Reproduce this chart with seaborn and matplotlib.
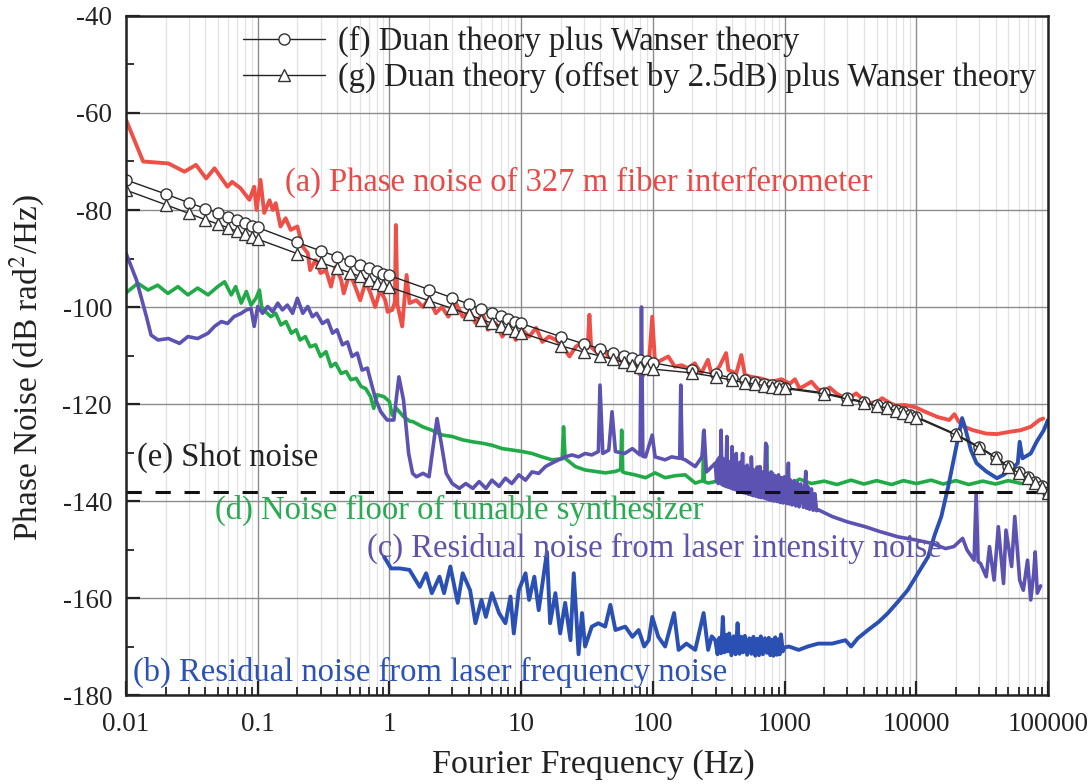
import numpy as np
import pandas as pd
import matplotlib
matplotlib.use("Agg")
import matplotlib.pyplot as plt
from matplotlib.lines import Line2D
from matplotlib.ticker import FixedLocator, FixedFormatter, NullFormatter
import seaborn as sns

# ---------------- data (frequency in Hz, phase noise in dB rad^2/Hz) ----------------
# (a) measured phase noise of the 327 m fiber interferometer
fiber_noise = [
    (0.01, -61.4), (0.0135, -70.0), (0.021, -70.4), (0.0278, -72.1), (0.034, -70.7),
    (0.0406, -73.5), (0.047, -71.4), (0.059, -75.2), (0.064, -74.2), (0.074, -75.5),
    (0.0865, -77.9), (0.094, -75.2), (0.098, -80.0), (0.105, -73.8), (0.112, -80.6),
    (0.123, -78.0), (0.13, -80.0), (0.137, -78.6), (0.149, -83.4), (0.163, -81.7),
    (0.178, -84.1), (0.2, -83.4), (0.22, -87.6), (0.24, -88.9), (0.25, -92.4),
    (0.275, -90.3), (0.3, -93.0), (0.33, -92.4), (0.36, -95.8), (0.39, -91.7),
    (0.43, -94.4), (0.45, -97.2), (0.5, -93.0), (0.55, -95.8), (0.6, -98.6),
    (0.66, -94.8), (0.72, -97.2), (0.78, -100.0), (0.85, -96.5), (0.93, -98.6),
    (0.97, -101.0), (1.05, -100.6), (1.1, -99.0), (1.12, -83.1), (1.15, -99.5),
    (1.25, -104.0), (1.35, -93.4), (1.42, -99.2), (1.6, -98.6), (1.8, -100.0),
    (2.0, -98.2), (2.25, -101.3), (2.5, -100.0), (2.8, -102.0), (3.2, -99.2),
    (3.6, -102.0), (4.1, -101.0), (4.5, -103.3), (5.1, -101.3), (5.6, -104.7),
    (6.4, -103.3), (7.2, -106.1), (8.1, -104.0), (9.1, -106.8), (10.2, -104.7),
    (11.5, -106.1), (13.0, -104.3), (14.5, -107.2), (16.3, -106.1), (18.4, -106.8),
    (20.7, -108.2), (23.3, -110.2), (26.0, -108.2), (29.3, -107.2), (32.0, -108.5),
    (33.0, -101.6), (34.0, -108.2), (37.0, -109.2), (41.0, -108.2), (46.0, -110.2),
    (52.0, -109.9), (58.0, -111.3), (66.0, -110.9), (74.0, -113.0), (83.0, -114.4),
    (93.0, -112.3), (99.0, -102.0), (104.0, -111.6), (117.0, -110.9), (131.0, -110.2),
    (147.0, -112.3), (165.0, -112.0), (185.0, -112.6), (208.0, -111.6), (233.0, -113.7),
    (262.0, -110.9), (280.0, -114.0), (320.0, -112.3), (360.0, -109.5), (375.0, -113.0),
    (430.0, -113.7), (470.0, -109.9), (500.0, -114.0), (560.0, -114.4), (650.0, -114.7),
    (800.0, -115.4), (950.0, -114.9), (1100.0, -115.8), (1200.0, -114.9), (1300.0, -116.8),
    (1450.0, -116.1), (1600.0, -115.4), (1800.0, -117.0), (2000.0, -117.3), (2200.0, -116.6),
    (2500.0, -117.9), (2800.0, -118.6), (3200.0, -118.5), (3500.0, -117.8), (4000.0, -119.2),
    (4500.0, -119.8), (5100.0, -119.5), (5500.0, -118.8), (6400.0, -119.9), (7000.0, -120.3),
    (8200.0, -120.2), (9900.0, -120.7), (11700.0, -121.6), (14600.0, -122.7), (17800.0, -123.3),
    (19500.0, -122.1), (21000.0, -123.6), (23000.0, -124.7), (27000.0, -125.4), (34000.0, -126.1),
    (41000.0, -126.2), (52000.0, -125.7), (62000.0, -125.4), (74000.0, -124.7), (86000.0, -123.3),
    (92000.0, -123.0),
]

# (b) residual noise from laser frequency noise
freq_noise = [
    (0.91, -151.5), (1.03, -153.9), (1.2, -153.9), (1.42, -154.2), (1.7, -157.7),
    (1.9, -154.9), (2.1, -159.0), (2.4, -155.6), (2.6, -159.0), (2.9, -153.5),
    (3.3, -161.0), (3.6, -154.9), (4.1, -158.4), (4.5, -165.2), (5.0, -160.4),
    (5.4, -163.9), (6.0, -159.0), (6.8, -163.1), (7.6, -165.2), (8.3, -159.7),
    (8.8, -167.3), (9.6, -158.4), (10.8, -154.9), (11.5, -160.4), (12.6, -155.6),
    (13.6, -162.5), (14.4, -157.7), (15.7, -150.5), (16.6, -165.2), (18.2, -159.0),
    (19.8, -167.3), (21.6, -161.0), (23.7, -168.7), (25.1, -154.9), (27.3, -171.6),
    (29.0, -163.1), (30.6, -170.0), (34.4, -165.9), (38.6, -165.2), (43.5, -165.9),
    (47.6, -161.4), (52.0, -166.6), (61.8, -165.9), (70.0, -168.0), (78.0, -166.6),
    (86.0, -170.0), (93.0, -168.7), (99.0, -163.9), (110.0, -168.0), (124.0, -170.0),
    (145.0, -163.1), (157.0, -170.7), (180.0, -169.4), (210.0, -170.7), (243.0, -163.1),
    (263.0, -170.7), (280.0, -167.9), (298.0, -168.7), (310.0, -171.6), (320.0, -168.2),
    (330.0, -171.4), (340.0, -163.9), (350.0, -171.2), (360.0, -167.6), (370.0, -171.0),
    (380.0, -167.3), (395.0, -171.8), (410.0, -167.9), (425.0, -171.6), (440.0, -165.2),
    (455.0, -171.5), (470.0, -168.0), (485.0, -171.2), (500.0, -167.8), (520.0, -171.7),
    (540.0, -168.3), (560.0, -171.5), (580.0, -168.0), (600.0, -171.9), (620.0, -168.4),
    (640.0, -171.8), (660.0, -167.9), (685.0, -171.6), (710.0, -168.3), (735.0, -171.3),
    (760.0, -168.2), (780.0, -171.8), (800.0, -168.6), (825.0, -171.9), (850.0, -168.1),
    (875.0, -171.7), (900.0, -168.5), (920.0, -171.6), (940.0, -167.5), (970.0, -171.0),
    (1000.0, -170.2), (1080.0, -170.0), (1280.0, -170.7), (1500.0, -170.0), (1800.0, -169.4),
    (2300.0, -169.4), (2900.0, -168.7), (3200.0, -170.0), (3600.0, -168.3), (4300.0, -166.6),
    (5200.0, -164.9), (6100.0, -163.1), (7300.0, -160.7), (8600.0, -158.4), (10300.0, -154.9),
    (12300.0, -151.5), (13800.0, -147.0), (15500.0, -143.2), (17500.0, -137.0), (19000.0, -132.2),
    (20600.0, -127.4), (22300.0, -122.9), (23400.0, -124.7), (26000.0, -129.5), (28700.0, -132.2),
    (34000.0, -133.9), (41000.0, -135.3), (46000.0, -134.6), (54000.0, -133.2), (59000.0, -132.2),
    (61000.0, -127.8), (64000.0, -131.2), (74000.0, -130.2), (82000.0, -127.8), (93000.0, -125.4),
    (100000.0, -123.3),
]

# (c) residual noise from laser intensity noise
intensity_noise = [
    (0.01, -88.9), (0.012, -94.4), (0.013, -97.9), (0.0143, -102.0), (0.0155, -105.8),
    (0.0175, -106.8), (0.021, -106.5), (0.0255, -107.5), (0.0295, -106.1), (0.035, -106.5),
    (0.042, -105.4), (0.047, -104.0), (0.053, -103.0), (0.059, -103.4), (0.066, -102.0),
    (0.075, -101.3), (0.082, -100.6), (0.089, -100.3), (0.094, -104.0), (0.1, -99.9),
    (0.109, -101.3), (0.119, -99.9), (0.13, -101.0), (0.142, -99.2), (0.154, -100.6),
    (0.168, -99.6), (0.184, -101.3), (0.2, -98.2), (0.22, -101.3), (0.24, -99.9),
    (0.26, -102.0), (0.28, -101.3), (0.31, -103.4), (0.34, -102.7), (0.37, -105.4),
    (0.4, -104.7), (0.44, -107.8), (0.48, -107.2), (0.52, -110.2), (0.57, -109.5),
    (0.62, -113.0), (0.68, -112.6), (0.74, -116.4), (0.79, -119.2), (0.86, -121.6),
    (0.96, -123.3), (1.08, -123.3), (1.18, -114.4), (1.28, -119.2), (1.4, -130.2),
    (1.5, -134.3), (1.6, -135.0), (1.8, -134.3), (2.0, -135.0), (2.2, -126.7),
    (2.3, -123.0), (2.5, -128.8), (2.7, -134.3), (3.0, -136.4), (3.4, -137.4),
    (3.8, -136.4), (4.3, -137.4), (4.8, -136.0), (5.4, -137.4), (6.0, -135.7),
    (6.8, -137.0), (7.6, -135.3), (8.5, -136.4), (9.6, -134.6), (10.8, -135.7),
    (12.1, -134.0), (13.6, -134.3), (15.3, -132.9), (17.1, -132.2), (19.3, -131.5),
    (21.6, -130.9), (24.3, -130.5), (27.3, -130.9), (30.6, -130.2), (34.4, -130.5),
    (38.6, -129.8), (39.7, -116.1), (41.7, -130.2), (46.3, -129.5), (49.0, -121.6),
    (52.0, -129.8), (61.0, -130.2), (70.0, -129.2), (80.0, -130.5), (82.0, -100.0),
    (84.0, -130.8), (88.0, -130.9), (99.0, -126.4), (104.0, -130.9), (124.0, -131.5),
    (139.0, -130.9), (160.0, -131.2), (163.0, -116.1), (167.0, -131.3), (176.0, -131.5),
    (210.0, -132.9), (236.0, -130.9), (245.0, -125.4), (255.0, -134.0), (265.0, -133.6),
    (298.0, -132.2), (305.0, -136.0), (310.0, -131.5), (315.0, -136.4), (320.0, -131.0),
    (325.0, -135.8), (330.0, -125.4), (335.0, -136.6), (340.0, -131.2), (345.0, -136.8),
    (350.0, -131.5), (358.0, -137.0), (365.0, -126.7), (370.0, -137.1), (375.0, -132.0),
    (382.0, -137.2), (390.0, -131.8), (395.0, -137.4), (400.0, -128.8), (405.0, -137.5),
    (410.0, -132.4), (420.0, -137.6), (430.0, -130.2), (437.0, -137.9), (445.0, -132.6),
    (452.0, -138.0), (460.0, -132.0), (470.0, -138.2), (480.0, -130.2), (490.0, -138.3),
    (500.0, -133.0), (510.0, -138.4), (520.0, -132.6), (532.0, -138.6), (545.0, -133.4),
    (552.0, -138.7), (560.0, -130.9), (575.0, -138.9), (590.0, -133.6), (605.0, -139.0),
    (620.0, -133.0), (635.0, -139.2), (650.0, -132.9), (665.0, -139.3), (680.0, -134.0),
    (700.0, -139.4), (720.0, -128.1), (735.0, -139.6), (750.0, -134.4), (770.0, -139.8),
    (790.0, -134.0), (800.0, -139.9), (810.0, -134.3), (830.0, -140.0), (850.0, -134.8),
    (875.0, -140.1), (900.0, -134.6), (925.0, -140.3), (950.0, -135.2), (975.0, -140.4),
    (1000.0, -135.0), (1035.0, -140.5), (1070.0, -132.2), (1085.0, -140.6), (1100.0, -135.6),
    (1140.0, -140.8), (1180.0, -135.8), (1215.0, -141.0), (1250.0, -136.2), (1290.0, -141.2),
    (1330.0, -136.5), (1390.0, -141.3), (1450.0, -133.9), (1475.0, -141.5), (1500.0, -137.0),
    (1550.0, -141.7), (1600.0, -137.5), (1650.0, -141.9), (1700.0, -138.5), (1750.0, -142.0),
    (1800.0, -141.8), (2300.0, -143.2), (3000.0, -144.3), (4100.0, -145.3), (5300.0, -146.3),
    (7300.0, -147.4), (9800.0, -148.0), (13000.0, -148.7), (16700.0, -149.8), (19300.0, -149.4),
    (22500.0, -147.7), (24300.0, -150.1), (27500.0, -152.2), (28500.0, -138.4), (29500.0, -152.5),
    (30800.0, -152.9), (34000.0, -155.6), (36000.0, -149.4), (39000.0, -156.3), (42000.0, -145.3),
    (46000.0, -157.0), (48000.0, -146.0), (53000.0, -153.5), (56000.0, -143.2), (61000.0, -156.3),
    (65000.0, -158.4), (70000.0, -152.2), (74000.0, -160.4), (78000.0, -154.9), (80000.0, -150.5),
    (83000.0, -159.0), (88000.0, -157.5),
]

# (d) noise floor of the tunable synthesizer
synth_floor = [
    (0.01, -97.1), (0.0123, -95.1), (0.0147, -96.5), (0.0174, -95.5), (0.0208, -97.2),
    (0.0248, -95.8), (0.0295, -97.5), (0.035, -96.1), (0.042, -97.5), (0.0497, -95.8),
    (0.056, -94.8), (0.063, -97.5), (0.068, -95.8), (0.075, -99.2), (0.082, -96.8),
    (0.089, -99.6), (0.097, -98.2), (0.103, -96.5), (0.107, -99.9), (0.115, -101.0),
    (0.126, -102.0), (0.137, -101.3), (0.15, -103.7), (0.164, -103.0), (0.18, -105.4),
    (0.196, -104.7), (0.21, -106.8), (0.23, -106.1), (0.25, -108.2), (0.275, -107.8),
    (0.3, -110.2), (0.33, -109.2), (0.36, -112.3), (0.39, -111.6), (0.43, -113.7),
    (0.47, -113.3), (0.51, -115.0), (0.56, -114.7), (0.61, -116.4), (0.66, -116.8),
    (0.72, -118.5), (0.76, -120.9), (0.81, -118.1), (0.91, -118.5), (1.0, -119.5),
    (1.05, -122.3), (1.13, -120.9), (1.28, -122.6), (1.44, -123.6), (1.5, -123.6),
    (1.79, -124.7), (2.1, -125.4), (2.53, -126.4), (3.0, -126.7), (3.6, -127.4),
    (4.3, -127.8), (5.1, -128.1), (6.0, -128.5), (7.2, -129.2), (8.6, -129.5),
    (10.2, -129.8), (12.1, -130.2), (14.4, -130.9), (17.1, -131.5), (20.5, -131.3),
    (21.0, -124.7), (21.6, -131.2), (25.8, -132.9), (30.6, -133.6), (36.6, -133.9),
    (43.5, -134.2), (52.0, -133.9), (57.0, -133.5), (58.0, -125.4), (59.0, -134.0),
    (61.8, -134.2), (73.0, -134.6), (88.0, -135.2), (104.0, -134.2), (124.0, -135.2),
    (147.0, -134.8), (176.0, -134.6), (210.0, -136.3), (240.0, -135.8), (243.0, -125.7),
    (246.0, -136.0), (263.0, -136.3), (297.0, -136.0), (350.0, -135.6), (420.0, -136.6),
    (500.0, -135.8), (600.0, -136.5), (720.0, -136.0), (731.0, -128.5), (745.0, -136.3),
    (900.0, -135.7), (1100.0, -136.6), (1300.0, -135.5), (1600.0, -136.4), (2000.0, -135.9),
    (2500.0, -136.6), (3200.0, -135.7), (4000.0, -136.5), (5000.0, -135.8), (6500.0, -136.6),
    (8000.0, -135.8), (10000.0, -136.4), (13000.0, -135.7), (16000.0, -136.5), (20000.0, -135.8),
    (25000.0, -136.6), (32000.0, -135.9), (40000.0, -136.5), (50000.0, -135.8), (63000.0, -136.4),
    (80000.0, -135.9), (95000.0, -136.5),
]

# (e) shot-noise level
shot_noise_freq = [0.01, 100000.0]
shot_noise_level = [-138.1, -138.1]

# (f)/(g) theory, one marker at each n x 10^k Hz
theory_freq = [n * 10.0 ** k for k in range(-2, 5) for n in range(1, 10)] + [1e5]
duan_wanser = [
    -73.8, -76.7, -78.5, -79.7, -80.6, -81.4, -82.1, -82.7, -83.2,
    -83.6, -86.7, -88.4, -89.6, -90.5, -91.3, -92.0, -92.6, -93.1,
    -93.5, -96.4, -98.1, -99.4, -100.5, -101.3, -101.9, -102.5, -103.0,
    -103.4, -106.1, -107.6, -108.6, -109.4, -110.0, -110.5, -110.9, -111.2,
    -111.5, -113.0, -113.9, -114.6, -115.1, -115.5, -115.8, -116.1, -116.3,
    -116.6, -117.7, -118.8, -119.5, -120.2, -120.6, -121.2, -121.7, -122.2,
    -122.6, -126.2, -128.8, -130.9, -132.8, -134.0, -135.0, -136.0, -137.0,
    -138.2,
]
duan_offset_wanser = [
    -75.9, -78.9, -80.7, -82.0, -82.9, -83.7, -84.4, -85.0, -85.5,
    -86.0, -89.0, -90.8, -92.0, -92.9, -93.7, -94.4, -95.0, -95.5,
    -95.9, -98.7, -100.3, -101.5, -102.6, -103.3, -103.9, -104.4, -104.9,
    -105.3, -108.0, -109.3, -110.1, -110.8, -111.4, -111.9, -112.3, -112.6,
    -112.8, -113.6, -114.4, -115.1, -115.6, -115.9, -116.2, -116.4, -116.6,
    -116.8, -117.9, -119.0, -119.7, -120.4, -120.8, -121.4, -121.9, -122.4,
    -122.8, -126.4, -129.0, -131.1, -133.0, -134.2, -135.2, -136.2, -137.2,
    -138.4,
]

x_tick_values = [0.01, 0.1, 1, 10, 100, 1000, 10000, 100000]
x_tick_labels = ["0.01", "0.1", "1", "10", "100", "1000", "10000", "100000"]
y_tick_values = [-180, -160, -140, -120, -100, -80, -60, -40]

# ---------------- style ----------------
sns.set_theme(style="ticks")
plt.rcParams["font.family"] = ["Liberation Serif", "DejaVu Serif"]
plt.rcParams["mathtext.fontset"] = "stix"
plt.rcParams["axes.unicode_minus"] = False

RED = "#ee4f47"
BLUE = "#2b50b3"
PURPLE = "#5b52b2"
GREEN = "#22aa48"
INK = "#222222"
TXT = 23.5


def frame(pairs):
    f, v = zip(*pairs)
    return pd.DataFrame({"freq": f, "noise": v})


fig = plt.figure(figsize=(10.89, 7.84), dpi=100)
ax = fig.add_axes([0.1157, 0.1135, 0.8466, 0.8661])
ax.set_xscale("log")

# grid first so the traces sit on top
ax.set_axisbelow(True)
ax.grid(which="major", axis="both", color="#8c8c8c", lw=1.0)
ax.grid(which="minor", axis="x", color="#e2e2e2", lw=0.9)

sns.lineplot(data=frame(fiber_noise), x="freq", y="noise", ax=ax, color=RED,
             lw=2.8, sort=False, estimator=None, legend=False)
sns.lineplot(data=frame(synth_floor), x="freq", y="noise", ax=ax, color=GREEN,
             lw=2.6, sort=False, estimator=None, legend=False)
sns.lineplot(data=frame(intensity_noise), x="freq", y="noise", ax=ax, color=PURPLE,
             lw=2.6, sort=False, estimator=None, legend=False)
sns.lineplot(data=frame(freq_noise), x="freq", y="noise", ax=ax, color=BLUE,
             lw=2.8, sort=False, estimator=None, legend=False)
sns.lineplot(x=shot_noise_freq, y=shot_noise_level, ax=ax, color="#111111",
             lw=2.2, linestyle=(0, (5, 4.5)), legend=False)

sns.lineplot(x=theory_freq, y=duan_wanser, ax=ax, color=INK, lw=1.0,
             marker="o", markersize=8, markerfacecolor="white",
             markeredgecolor="#333333", markeredgewidth=1.0, legend=False)
sns.lineplot(x=theory_freq, y=duan_offset_wanser, ax=ax, color=INK, lw=1.0,
             marker="^", markersize=9, markerfacecolor="white",
             markeredgecolor="#333333", markeredgewidth=1.0, legend=False)

# axes
ax.set_xlim(0.01, 100000)
ax.set_ylim(-180, -40)
ax.xaxis.set_major_locator(FixedLocator(x_tick_values))
ax.xaxis.set_major_formatter(FixedFormatter(x_tick_labels))
ax.xaxis.set_minor_locator(FixedLocator(
    [n * 10.0 ** k for k in range(-2, 5) for n in range(2, 10)]))
ax.xaxis.set_minor_formatter(NullFormatter())
ax.set_yticks(y_tick_values)
ax.set_yticks(np.arange(-170, -40, 20), minor=True)
ax.tick_params(which="major", direction="in", length=10, width=1.6,
               labelsize=19.5, colors=INK)
ax.tick_params(axis="x", which="major", pad=12)
ax.tick_params(axis="y", which="major", pad=10)
ax.tick_params(which="minor", direction="in", length=6, width=1.3, colors=INK)
ax.tick_params(axis="x", which="both", top=False)
ax.tick_params(axis="y", which="both", right=False)
for side in ax.spines.values():
    side.set_linewidth(1.8)
    side.set_color(INK)

ax.set_xlabel("Fourier Frequency (Hz)", fontsize=24.5, color=INK)
ax.set_ylabel("Phase Noise (dB rad$^2$/Hz)", fontsize=24, color=INK)
ax.xaxis.set_label_coords(0.5065, -0.080)
ax.yaxis.set_label_coords(-0.086, 0.483)

# curve annotations
ax.text(0.16, -74.4, "(a) Phase noise of 327 m fiber interferometer",
        color="#e84a47", fontsize=TXT, va="center", ha="left")
ax.text(0.0121, -131.1, "(e) Shot noise", color=INK, fontsize=TXT,
        va="center", ha="left")
ax.text(0.047, -141.9, "(d) Noise floor of tunable synthesizer", color="#2aaa52",
        fontsize=TXT, va="center", ha="left")
ax.text(0.67, -149.7, "(c) Residual noise from laser intensity noise", color="#5e55aa",
        fontsize=TXT, va="center", ha="left")
ax.text(0.0113, -175.3, "(b) Residual noise from laser frequency noise", color="#2d52b4",
        fontsize=TXT, va="center", ha="left")

# legend for the theory curves
handles = [
    Line2D([], [], color=INK, lw=1.0, marker="o", markersize=8,
           markerfacecolor="white", markeredgecolor="#333333"),
    Line2D([], [], color=INK, lw=1.0, marker="^", markersize=9,
           markerfacecolor="white", markeredgecolor="#333333"),
]
labels = ["(f) Duan theory plus Wanser theory",
          "(g) Duan theory (offset by 2.5dB) plus Wanser theory"]
ax.legend(handles, labels, loc="upper left", bbox_to_anchor=(0.12, 0.995),
          frameon=False, fontsize=TXT, handlelength=2.5, handletextpad=0.4,
          labelspacing=0.15, borderaxespad=0.0, borderpad=0.2, labelcolor=INK)

fig.savefig("out.png", dpi=100)
